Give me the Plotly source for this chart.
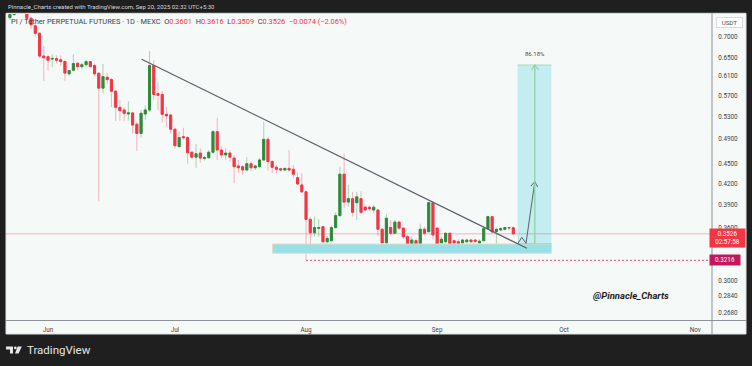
import numpy as np
import pandas as pd
import plotly.graph_objects as go

# ---------------- data (daily candles, PI/USDT perp, MEXC) ----------------
dates = pd.date_range("2025-05-23", "2025-09-19", freq="D")

opens = [
    0.7480, 0.7560, 0.7700, 0.7900, 0.7750, 0.7464, 0.7270, 0.7083, 0.6544,
    0.6530, 0.6475, 0.6485, 0.6460, 0.6420, 0.6152, 0.6231, 0.6383, 0.6307, 0.6350,
    0.6418, 0.6330, 0.6165, 0.5853, 0.6078, 0.6030, 0.5791, 0.5475, 0.5425, 0.5350,
    0.5370, 0.5163, 0.4999, 0.5350, 0.5425, 0.6330, 0.5744, 0.5727, 0.5345, 0.5330,
    0.5074, 0.4777, 0.4944, 0.4929, 0.4683, 0.4604, 0.4670, 0.4582, 0.4596, 0.4683,
    0.5030, 0.4720, 0.4640, 0.4670, 0.4589, 0.4465, 0.4454, 0.4403, 0.4500, 0.4437,
    0.4454, 0.4559, 0.4898, 0.4534, 0.4445, 0.4422, 0.4403, 0.4428, 0.4414, 0.4287, 0.4180,
    0.4081, 0.3709, 0.3539, 0.3595, 0.3615, 0.3431, 0.3443, 0.3604, 0.3757, 0.4339,
    0.3938, 0.3985, 0.3930, 0.3985, 0.3870, 0.3868, 0.3831, 0.3831, 0.3583, 0.3417,
    0.3604, 0.3533, 0.3673, 0.3597, 0.3491, 0.3333, 0.3443, 0.3408, 0.3583, 0.3553, 0.3930,
    0.3597, 0.3417, 0.3431, 0.3533, 0.3443, 0.3431, 0.3417, 0.3431, 0.3451, 0.3451,
    0.3417, 0.3443, 0.3590, 0.3743, 0.3553, 0.3574, 0.3583, 0.3604, 0.3601,
]
highs = [
    0.7620, 0.7800, 0.8000, 0.8050, 0.7850, 0.7500, 0.7310, 0.7110, 0.6783,
    0.6560, 0.6580, 0.6560, 0.6560, 0.6450, 0.6230, 0.6580, 0.6400, 0.6400, 0.6460,
    0.6430, 0.6370, 0.6180, 0.6369, 0.6175, 0.6070, 0.5815, 0.5617, 0.5480, 0.5592,
    0.5380, 0.5210, 0.5425, 0.5510, 0.6657, 0.6450, 0.5973, 0.5800, 0.5488, 0.5360,
    0.5100, 0.5030, 0.5100, 0.4960, 0.4703, 0.4818, 0.4744, 0.4626, 0.4720, 0.5060,
    0.5280, 0.4780, 0.4754, 0.4720, 0.4640, 0.4559, 0.4480, 0.4604, 0.4535, 0.4480,
    0.4589, 0.5207, 0.4937, 0.4560, 0.4480, 0.4440, 0.4430, 0.4720, 0.4480, 0.4364, 0.4355,
    0.4100, 0.3740, 0.3745, 0.3709, 0.3625, 0.3500, 0.3630, 0.3800, 0.4454, 0.4665,
    0.4180, 0.4081, 0.4080, 0.4090, 0.3890, 0.3890, 0.3900, 0.3845, 0.3595, 0.3780,
    0.3700, 0.3700, 0.3690, 0.3605, 0.3512, 0.3491, 0.3470, 0.3653, 0.3615, 0.3943, 0.3950,
    0.3605, 0.3491, 0.3545, 0.3540, 0.3460, 0.3460, 0.3465, 0.3470, 0.3465, 0.3460,
    0.3460, 0.3615, 0.3757, 0.3755, 0.3595, 0.3610, 0.3610, 0.3615, 0.3616,
]
lows = [
    0.7420, 0.7530, 0.7650, 0.7680, 0.7440, 0.7190, 0.7000, 0.6490, 0.6002,
    0.6225, 0.6300, 0.6384, 0.6326, 0.6002, 0.6115, 0.6210, 0.6231, 0.6260, 0.6320,
    0.6300, 0.6100, 0.3950, 0.5744, 0.5937, 0.5481, 0.5220, 0.5226, 0.5226, 0.5226,
    0.4996, 0.4703, 0.4927, 0.5240, 0.5390, 0.5617, 0.5425, 0.5197, 0.5119, 0.4996,
    0.4744, 0.4750, 0.4887, 0.4500, 0.4573, 0.4437, 0.4518, 0.4550, 0.4580, 0.4660,
    0.4559, 0.4589, 0.4560, 0.4535, 0.4206, 0.4355, 0.4330, 0.4380, 0.4385, 0.4403,
    0.4430, 0.4550, 0.4393, 0.4355, 0.4355, 0.4380, 0.4390, 0.4380, 0.4278, 0.4180, 0.4064,
    0.3216, 0.3387, 0.3491, 0.3491, 0.3387, 0.3340, 0.3420, 0.3590, 0.3740, 0.3853,
    0.3876, 0.3745, 0.3700, 0.3780, 0.3815, 0.3820, 0.3790, 0.3500, 0.3408, 0.3400,
    0.3512, 0.3525, 0.3574, 0.3460, 0.3310, 0.3302, 0.3390, 0.3400, 0.3512, 0.3540, 0.3460,
    0.3360, 0.3400, 0.3410, 0.3400, 0.3400, 0.3390, 0.3400, 0.3410, 0.3410, 0.3420,
    0.3400, 0.3440, 0.3580, 0.3530, 0.3408, 0.3560, 0.3565, 0.3570, 0.3509,
]
closes = [
    0.7560, 0.7700, 0.7900, 0.7750, 0.7464, 0.7296, 0.7083, 0.6544, 0.6505,
    0.6450, 0.6490, 0.6450, 0.6420, 0.6167, 0.6221, 0.6376, 0.6307, 0.6350, 0.6418,
    0.6307, 0.6150, 0.5853, 0.6092, 0.6030, 0.5791, 0.5475, 0.5411, 0.5362, 0.5370,
    0.5147, 0.4999, 0.5364, 0.5425, 0.6330, 0.5727, 0.5710, 0.5345, 0.5315, 0.5074,
    0.4792, 0.4929, 0.4927, 0.4676, 0.4604, 0.4658, 0.4589, 0.4596, 0.4683, 0.5030,
    0.4720, 0.4640, 0.4670, 0.4604, 0.4454, 0.4437, 0.4403, 0.4500, 0.4437, 0.4465,
    0.4559, 0.4898, 0.4534, 0.4445, 0.4414, 0.4403, 0.4428, 0.4403, 0.4339, 0.4194, 0.4081,
    0.3709, 0.3539, 0.3604, 0.3604, 0.3431, 0.3470, 0.3604, 0.3757, 0.4339, 0.3938,
    0.3985, 0.3800, 0.4010, 0.3800, 0.3831, 0.3848, 0.3868, 0.3583, 0.3417, 0.3722,
    0.3533, 0.3673, 0.3597, 0.3491, 0.3333, 0.3451, 0.3408, 0.3583, 0.3533, 0.3930, 0.3512,
    0.3387, 0.3460, 0.3533, 0.3408, 0.3417, 0.3408, 0.3451, 0.3451, 0.3431, 0.3437,
    0.3437, 0.3590, 0.3743, 0.3550, 0.3583, 0.3590, 0.3604, 0.3600, 0.3526,
]

price_ticks = [0.7000, 0.6500, 0.6100, 0.5700, 0.5300, 0.4900, 0.4500, 0.4200,
               0.3900, 0.3600, 0.3000, 0.2840, 0.2680]
price_tick_labels = [f"{v:.4f}" for v in price_ticks]
month_ticks = ["2025-06-01", "2025-07-01", "2025-08-01", "2025-09-01", "2025-10-01", "2025-11-01"]
month_labels = ["Jun", "Jul", "Aug", "Sep", "Oct", "Nov"]

# ---------------- drawings ----------------
trend_dates = ["2025-06-23 03:30", "2025-09-22 05:00"]
trend_prices = [0.6471, 0.3354]
zone_dates = ["2025-07-24 02:00", "2025-09-28 00:00"]
zone_prices = [0.3296, 0.3403]
low_date = "2025-08-01"
low_price = 0.3216
entry_price = 0.3407
gain_pct = 86.18
target_price = entry_price * (1 + gain_pct / 100)
long_dates = ["2025-09-20 00:00", "2025-09-28 00:00"]
long_arrow_date = "2025-09-24 02:00"
long_wing_dates = ["2025-09-23 07:40", "2025-09-24 23:20"]
long_wing_price = 0.6234
path_dates = ["2025-09-20 00:00", "2025-09-21 00:00", "2025-09-22 00:00", "2025-09-24 02:00"]
path_prices = [0.3403, 0.3484, 0.3412, 0.4227]
path_wing_dates = ["2025-09-23 03:20", "2025-09-24 18:30"]
path_wing_prices = [0.4163, 0.4148]
countdown = "02:57:58"
x_range = ["2025-05-22 01:42", "2025-11-04 23:17"]
y_range = [0.2613, 0.7575]

# ---------------- style ----------------
W, H = 752, 366
L_PX, R_PX, T_PX, B_PX = 6, 712, 14, 320
BG = "#1f1f1f"
PANEL = "#f5f9f8"
GREEN, RED = "#2e8b3c", "#f23645"
GREEN_WICK, RED_WICK = "#a9d3ad", "#f6b3b9"
FONT = "Roboto, Open Sans, sans-serif"


def px(x):
    return (x - L_PX) / (R_PX - L_PX)


def py(y):
    return (B_PX - y) / (B_PX - T_PX)


o, h, l, c = (np.array(a) for a in (opens, highs, lows, closes))

fig = go.Figure()

# support zone
fig.add_trace(go.Scatter(
    x=[zone_dates[0], zone_dates[1], zone_dates[1], zone_dates[0], zone_dates[0]],
    y=[zone_prices[0], zone_prices[0], zone_prices[1], zone_prices[1], zone_prices[0]],
    fill="toself", fillcolor="#95e0e9", mode="lines",
    line=dict(color="#e6dabb", width=1), hoverinfo="skip", showlegend=False))

# long position box
fig.add_trace(go.Scatter(
    x=[long_dates[0], long_dates[1], long_dates[1], long_dates[0], long_dates[0]],
    y=[entry_price, entry_price, target_price, target_price, entry_price],
    fill="toself", fillcolor="rgba(0,188,212,0.20)", mode="lines",
    line=dict(width=0), hoverinfo="skip", showlegend=False))
for p in (entry_price, target_price):
    fig.add_trace(go.Scatter(x=long_dates, y=[p, p], mode="lines",
                             line=dict(color="#a7dcc2", width=1.2),
                             hoverinfo="skip", showlegend=False))

# last price line
fig.add_trace(go.Scatter(x=x_range, y=[c[-1], c[-1]], mode="lines",
                         line=dict(color="rgba(242,54,69,0.35)", width=1),
                         hoverinfo="skip", showlegend=False))
# low line
fig.add_trace(go.Scatter(x=[low_date, x_range[1]], y=[low_price, low_price], mode="lines",
                         line=dict(color="#e2467c", width=1, dash="2px,2px"),
                         hoverinfo="skip", showlegend=False))

# candles: wicks (pale) then bodies
fig.add_trace(go.Candlestick(
    x=dates, open=o, high=h, low=l, close=c, whiskerwidth=0,
    increasing=dict(line=dict(color=GREEN_WICK, width=1), fillcolor=GREEN_WICK),
    decreasing=dict(line=dict(color=RED_WICK, width=1), fillcolor=RED_WICK),
    hoverinfo="skip", showlegend=False))
fig.add_trace(go.Candlestick(
    x=dates, open=o, high=np.maximum(o, c), low=np.minimum(o, c), close=c, whiskerwidth=0,
    increasing=dict(line=dict(color=GREEN, width=1), fillcolor=GREEN),
    decreasing=dict(line=dict(color=RED, width=1), fillcolor=RED),
    hoverinfo="skip", showlegend=False))

# trendline
fig.add_trace(go.Scatter(x=trend_dates, y=trend_prices, mode="lines",
                         line=dict(color="#5d606b", width=1.3),
                         hoverinfo="skip", showlegend=False))
# projected path + arrowhead
fig.add_trace(go.Scatter(x=path_dates, y=path_prices, mode="lines",
                         line=dict(color="#5d606b", width=1),
                         hoverinfo="skip", showlegend=False))
fig.add_trace(go.Scatter(x=[path_wing_dates[0], path_dates[-1], path_wing_dates[1]],
                         y=[path_wing_prices[0], path_prices[-1], path_wing_prices[1]],
                         mode="lines", line=dict(color="#5d606b", width=1),
                         hoverinfo="skip", showlegend=False))
# long arrow
fig.add_trace(go.Scatter(x=[long_arrow_date, long_arrow_date], y=[entry_price, target_price],
                         mode="lines", line=dict(color="#93d3ad", width=1.4),
                         hoverinfo="skip", showlegend=False))
fig.add_trace(go.Scatter(x=[long_wing_dates[0], long_arrow_date, long_wing_dates[1]],
                         y=[long_wing_price, target_price, long_wing_price],
                         mode="lines", line=dict(color="#93d3ad", width=1.2),
                         hoverinfo="skip", showlegend=False))

# ---------------- layout ----------------
shapes = [
    dict(type="rect", xref="paper", yref="paper", x0=px(6), x1=px(746), y0=py(334), y1=py(13.3),
         fillcolor=PANEL, line=dict(color="#dfe3e6", width=1), layer="below"),
    dict(type="line", xref="paper", yref="paper", x0=px(6), x1=px(746), y0=py(320.5), y1=py(320.5),
         line=dict(color="#8e9198", width=1)),
    dict(type="line", xref="paper", yref="paper", x0=px(712), x1=px(712), y0=py(334), y1=py(13.3),
         line=dict(color="#8e9198", width=1)),
    # TradingView logo
    dict(type="path", xref="paper", yref="paper",
         path=f"M {px(6)} {py(346.5)} L {px(13)} {py(346.5)} L {px(13)} {py(353.5)} L {px(10)} {py(353.5)} "
              f"L {px(10)} {py(349.5)} L {px(6)} {py(349.5)} Z",
         fillcolor="#e6e6e6", line=dict(width=0)),
    dict(type="circle", xref="paper", yref="paper", x0=px(13.9), x1=px(16.7), y0=py(349.3), y1=py(346.5),
         fillcolor="#e6e6e6", line=dict(width=0)),
    dict(type="path", xref="paper", yref="paper",
         path=f"M {px(17.6)} {py(346.5)} L {px(21.8)} {py(346.5)} L {px(18.6)} {py(353.5)} "
              f"L {px(15.0)} {py(353.5)} Z",
         fillcolor="#e6e6e6", line=dict(width=0)),
]

last_chg = c[-1] - c[-2]
GAP = "&nbsp;&nbsp;"
legend_text = (
    '<span style="color:#3c3f48">PI / Tether PERPETUAL FUTURES · 1D · MEXC</span>'
    f'{GAP}<span style="color:#3c3f48">O</span><span style="color:{RED}">{o[-1]:.4f}</span>'
    f'{GAP}<span style="color:#3c3f48">H</span><span style="color:{RED}">{h[-1]:.4f}</span>'
    f'{GAP}<span style="color:#3c3f48">L</span><span style="color:{RED}">{l[-1]:.4f}</span>'
    f'{GAP}<span style="color:#3c3f48">C</span><span style="color:{RED}">{c[-1]:.4f}</span>'
    f'{GAP}<span style="color:{RED}">−{abs(last_chg):.4f} (−{abs(last_chg) / c[-2] * 100:.2f}%)</span>'
)

annotations = [
    dict(xref="paper", yref="paper", x=px(6), y=py(6.5), xanchor="left", yanchor="middle",
         text="Pinnacle_Charts created with TradingView.com, Sep 20, 2025 02:32 UTC+5:30",
         font=dict(size=6.0, color="#d6d8de", family=FONT), showarrow=False),
    dict(xref="paper", yref="paper", x=px(9), y=py(21.5), xanchor="left", yanchor="middle",
         text=legend_text, font=dict(size=7.4, family=FONT), showarrow=False),
    dict(xref="paper", yref="paper", x=px(729.5), y=py(22.7), xanchor="center", yanchor="middle",
         text="USDT", font=dict(size=6.2, color="#4a4d55", family=FONT), showarrow=False,
         bgcolor="#ffffff", bordercolor="#d6d9de", borderwidth=1, width=25, height=9, borderpad=0),
    dict(xref="x", yref="y", x=long_arrow_date, y=np.log10(target_price), xanchor="center",
         yanchor="bottom", yshift=6, text=f"{gain_pct:.2f}%",
         font=dict(size=6, color="#4a4d55", family=FONT), showarrow=False),
    dict(xref="paper", yref="paper", x=px(631), y=py(295), xanchor="center", yanchor="middle",
         text="<b><i>@Pinnacle_Charts</i></b>", font=dict(size=9.5, color="#1c1c1c", family=FONT),
         showarrow=False),
    dict(xref="paper", yref="y", x=px(708.5), y=np.log10(c[-1]), xanchor="left", yanchor="top",
         yshift=5.5, text=f"{c[-1]:.4f}<br>{countdown}", align="center", width=33,
         font=dict(size=6.3, color="#ffffff", family=FONT), bgcolor=RED, borderpad=1,
         showarrow=False),
    dict(xref="paper", yref="y", x=px(708.5), y=np.log10(low_price), xanchor="left",
         yanchor="middle", text=f"{low_price:.4f}", align="center", width=28,
         font=dict(size=6.3, color="#ffffff", family=FONT), bgcolor="#c2185b", borderpad=1,
         showarrow=False),
    dict(xref="paper", yref="paper", x=px(24.5), y=py(350), xanchor="left", yanchor="middle",
         text="TradingView", font=dict(size=11.5, color="#e6e6e6", family=FONT), showarrow=False),
]

fig.update_layout(
    width=W, height=H,
    margin=dict(l=L_PX, r=W - R_PX, t=T_PX, b=H - B_PX, pad=0),
    paper_bgcolor=BG, plot_bgcolor=PANEL,
    showlegend=False, hovermode=False,
    font=dict(family=FONT, color="#3c3f48"),
    shapes=shapes, annotations=annotations,
    xaxis=dict(type="date", range=x_range, rangeslider=dict(visible=False),
               showgrid=False, zeroline=False, showline=False,
               tickmode="array", tickvals=month_ticks, ticktext=month_labels,
               ticks="outside", ticklen=3, tickcolor="rgba(0,0,0,0)",
               tickfont=dict(size=6.3, color="#3c3f48", family=FONT)),
    yaxis=dict(type="log", side="right", range=[np.log10(y_range[0]), np.log10(y_range[1])],
               showgrid=False, zeroline=False, showline=False,
               tickmode="array", tickvals=price_ticks, ticktext=price_tick_labels,
               ticks="outside", ticklen=4, tickcolor="rgba(0,0,0,0)",
               tickfont=dict(size=6.3, color="#3c3f48", family=FONT)),
)

fig.write_html("out.html", config={"displayModeBar": False, "staticPlot": True},
               post_script="document.body.style.margin='0';")
